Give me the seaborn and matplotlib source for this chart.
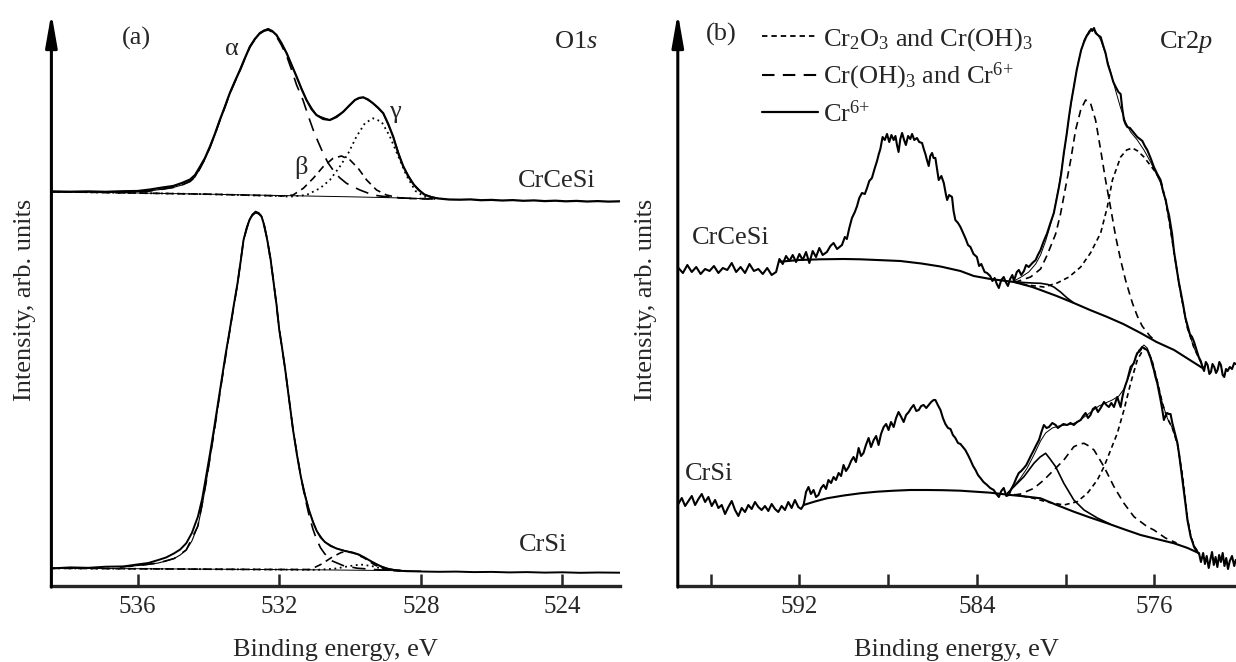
import matplotlib
matplotlib.use("Agg")
import matplotlib.pyplot as plt
import seaborn as sns
from matplotlib.lines import Line2D

# ---------------- data: (binding energy eV, intensity arb. units) ----------------
# Panel (a) O1s, CrCeSi
o1s_crcesi_data = [(538.4, 394.5), (537.9, 394.3), (537.4, 394.6), (536.9, 394.2), (536.4, 394.8), (536.0, 395.0),
    (535.65, 396.5), (535.3, 398.5), (535.0, 400), (534.75, 403), (534.52, 406.5), (534.38, 411), (534.24, 419.3),
    (534.1, 428), (533.96, 439.3), (533.82, 452), (533.68, 466), (533.54, 479), (533.4, 492.7), (533.25, 505),
    (533.11, 516), (532.97, 528), (532.83, 539.3), (532.69, 547), (532.55, 552.7), (532.43, 555.5), (532.31, 556.7),
    (532.2, 555), (532.08, 551), (531.94, 543), (531.79, 532.7), (531.65, 521), (531.51, 509.3), (531.37, 497),
    (531.23, 486), (531.09, 477), (530.95, 471), (530.76, 467), (530.57, 466), (530.38, 469), (530.19, 474.3),
    (530.02, 480.5), (529.86, 486), (529.75, 488), (529.63, 488.7), (529.49, 486.5), (529.35, 482.7), (529.2, 478),
    (529.06, 472.7), (528.92, 462), (528.78, 449.3), (528.64, 433), (528.5, 420), (528.36, 410), (528.2, 401.5),
    (528.06, 396), (527.9, 391.5), (527.7, 388.7), (527.5, 387.5), (527.2, 386.5), (526.9, 386.3), (526.6, 386.6),
    (526.3, 385.8), (526.0, 386.1), (525.7, 385.5), (525.4, 385.9), (525.1, 385.2), (524.8, 385.6), (524.5, 384.9),
    (524.2, 385.3), (523.9, 384.7), (523.6, 385.1), (523.3, 384.5), (523.0, 384.9), (522.7, 384.4), (522.37, 384.7)]
o1s_crcesi_fit = [(536.5, 394.0), (536.0, 394.3), (535.65, 395.2), (535.3, 396.8), (535.0, 398.5), (534.75, 401),
    (534.52, 404.5), (534.38, 409), (534.24, 417.5), (534.1, 427), (533.96, 438.5), (533.82, 451.5), (533.68, 465.5),
    (533.4, 492.5), (533.11, 516), (532.83, 539.5), (532.55, 553.5), (532.31, 557.5), (532.08, 551.5), (531.79, 532.7),
    (531.51, 509.3), (531.23, 486), (530.95, 471), (530.57, 466), (530.19, 474.3), (529.86, 486), (529.63, 488.7),
    (529.35, 482.7), (529.06, 472.7), (528.78, 449.3), (528.5, 420), (528.2, 401.5), (527.9, 391.5), (527.5, 387.5)]
o1s_crcesi_bg = [(538.4, 394.3), (536.5, 393.3), (534.0, 391.8), (532.0, 390.5), (530.0, 389.2), (528.5, 388.0), (527.6, 387.0)]
o1s_crcesi_alpha = [(538.4, 394.3), (536.5, 393.5), (536.0, 393.8), (535.65, 395), (535.3, 396.8), (535.0, 398.5),
    (534.75, 401), (534.52, 404.5), (534.38, 409), (534.24, 417.5), (534.1, 427), (533.96, 438.5), (533.82, 451.5),
    (533.68, 465.5), (533.54, 478.5), (533.4, 492.3), (533.25, 504.5), (533.11, 515.5), (532.97, 527.5), (532.83, 539),
    (532.69, 546.5), (532.55, 552.3), (532.43, 555), (532.31, 556), (532.2, 554), (532.08, 549.5), (531.94, 541),
    (531.79, 530), (531.65, 516), (531.51, 501), (531.33, 486), (531.18, 470), (531.04, 456), (530.9, 444),
    (530.76, 432.7), (530.62, 423), (530.48, 416), (530.3, 408.5), (530.1, 402.7), (529.9, 399), (529.72, 396),
    (529.5, 393), (529.35, 391), (529.15, 390), (528.97, 389.3), (528.7, 388.3), (528.4, 387.8), (527.6, 387.0)]
o1s_crcesi_beta = [(538.4, 394.3), (534.0, 391.8), (531.9, 390), (531.61, 391), (531.32, 397.7), (531.04, 407.7),
    (530.76, 419.3), (530.48, 427.7), (530.24, 430), (530.0, 426), (529.77, 417.7), (529.53, 406), (529.25, 396),
    (528.97, 391), (528.64, 388.3), (528.3, 387.5), (527.6, 387.0)]
o1s_crcesi_gamma = [(538.4, 394.3), (534.0, 391.8), (532.0, 390), (531.7, 389.3), (531.23, 391), (530.85, 397.7),
    (530.57, 406), (530.29, 419.3), (530.05, 432.7), (529.82, 449.3), (529.58, 462.7), (529.35, 467.7), (529.11, 464.3),
    (528.88, 450), (528.64, 430), (528.4, 410), (528.15, 395), (527.9, 389.5), (527.6, 387.0)]

# Panel (a) O1s, CrSi
o1s_crsi_data = [(538.4, 17.7), (537.9, 18.6), (537.4, 18.2), (536.9, 19.3), (536.4, 19.6), (535.98, 21.7), (535.7, 23),
    (535.42, 26), (535.2, 28.5), (534.97, 32.7), (534.8, 36.5), (534.63, 42.7), (534.47, 53), (534.3, 69.3), (534.18, 87),
    (534.07, 109.3), (533.96, 132), (533.85, 156), (533.74, 181), (533.63, 206), (533.52, 231), (533.4, 256),
    (533.29, 280), (533.18, 302.7), (533.09, 325), (533.01, 346), (532.92, 358), (532.84, 366), (532.76, 371),
    (532.67, 373.3), (532.58, 372.5), (532.5, 369.3), (532.42, 360), (532.34, 346), (532.25, 328), (532.17, 306),
    (532.08, 282), (532.0, 256), (531.92, 238), (531.83, 216), (531.72, 186), (531.61, 156), (531.5, 131),
    (531.39, 109.3), (531.27, 90), (531.16, 76), (531.05, 64), (530.94, 55), (530.83, 48.5), (530.71, 44),
    (530.55, 40), (530.38, 37.5), (530.15, 35), (529.93, 33.5), (529.75, 31.5), (529.59, 28.5), (529.42, 25),
    (529.26, 22), (529.1, 19), (528.92, 17.2), (528.7, 15.5), (528.4, 14.8), (528.0, 14.5), (527.5, 14.2), (527.0, 14.4),
    (526.5, 13.9), (526.0, 14.1), (525.5, 13.6), (525.0, 13.9), (524.5, 13.4), (524.0, 13.7), (523.5, 13.2),
    (523.0, 13.5), (522.37, 13.3)]
o1s_crsi_fit = [(536.5, 19.0), (535.98, 20.5), (535.7, 21.5), (535.42, 23), (535.2, 25), (534.97, 27.5), (534.8, 31),
    (534.63, 36), (534.47, 45), (534.3, 60), (534.18, 80), (534.07, 103), (533.96, 127), (533.85, 152), (533.74, 178),
    (533.63, 204), (533.52, 230), (533.4, 255), (533.29, 279), (533.18, 302), (533.09, 325), (533.01, 346),
    (532.92, 359), (532.84, 367), (532.76, 372), (532.67, 374.5), (532.58, 373.5), (532.5, 370), (532.42, 361),
    (532.34, 347), (532.25, 329), (532.17, 307), (532.08, 283), (532.0, 257), (531.83, 216), (531.61, 156),
    (531.39, 109.3), (531.16, 76), (530.94, 55), (530.71, 44), (530.38, 37.5), (529.93, 33.5), (529.59, 28.5),
    (529.26, 22), (528.92, 17.2), (528.4, 15.0)]
o1s_crsi_bg = [(538.4, 17.7), (536.0, 17.3), (533.0, 16.6), (531.0, 16.2), (529.0, 15.5), (528.0, 15.0)]
o1s_crsi_alpha = [(536.5, 19.0), (535.98, 20.5), (535.42, 23), (534.97, 27.5), (534.63, 36), (534.3, 60), (534.07, 103),
    (533.85, 152), (533.63, 204), (533.4, 255), (533.18, 302), (533.01, 346), (532.84, 367), (532.67, 374.5),
    (532.5, 370), (532.34, 347), (532.17, 307), (532.0, 257), (531.83, 216), (531.61, 156), (531.39, 109),
    (531.27, 88), (531.16, 71), (531.05, 57), (530.94, 46), (530.83, 38), (530.71, 32), (530.5, 25), (530.2, 20.5),
    (529.8, 17.8), (529.2, 16.2), (528.6, 15.3)]
o1s_crsi_beta = [(538.4, 17.7), (533.0, 16.6), (531.12, 16.5), (530.8, 22), (530.5, 29), (530.25, 33.5), (530.1, 34.3),
    (529.9, 33), (529.6, 28), (529.3, 21), (529.0, 16.5), (528.5, 15.0)]
o1s_crsi_gamma = [(538.4, 17.7), (533.0, 16.6), (530.9, 16.2), (530.4, 17.5), (530.0, 20), (529.7, 21.5), (529.4, 20),
    (529.1, 17.5), (528.8, 15.5), (528.3, 15.0)]

# Panel (b) Cr2p, CrCeSi
cr2p_crcesi_data = [(597.45, 318), (597.25, 313), (597.05, 321), (596.85, 314), (596.65, 319), (596.45, 312),
    (596.25, 317), (596.05, 315), (595.85, 320), (595.65, 313), (595.45, 318), (595.25, 316), (595.05, 323),
    (594.85, 314), (594.65, 319), (594.45, 313), (594.25, 322), (594.05, 315), (593.85, 317), (593.65, 312),
    (593.45, 318), (593.25, 311), (593.05, 314), (592.9, 327), (592.75, 322), (592.6, 330), (592.45, 325),
    (592.3, 331), (592.15, 324), (592.0, 332), (591.85, 326), (591.7, 334), (591.55, 323), (591.4, 335),
    (591.25, 329), (591.1, 338), (590.95, 331), (590.76, 334), (590.6, 340), (590.46, 343), (590.3, 337),
    (590.08, 341), (589.95, 349), (589.86, 347), (589.75, 358), (589.63, 368), (589.5, 374), (589.4, 380),
    (589.3, 388), (589.18, 393), (589.05, 392), (588.95, 398), (588.85, 405), (588.73, 408), (588.6, 418),
    (588.5, 425), (588.42, 432), (588.35, 437), (588.25, 449), (588.15, 446), (588.05, 452), (587.95, 444),
    (587.85, 451), (587.75, 446), (587.67, 450), (587.6, 441), (587.53, 434), (587.45, 447), (587.37, 453),
    (587.28, 446), (587.2, 441), (587.1, 450), (587.0, 447), (586.92, 452), (586.82, 446), (586.7, 448),
    (586.6, 444), (586.47, 443), (586.38, 436), (586.32, 432), (586.25, 426), (586.17, 420), (586.1, 430),
    (586.02, 433), (585.95, 428), (585.87, 428), (585.8, 418), (585.72, 406), (585.6, 410), (585.49, 403),
    (585.4, 392), (585.34, 386), (585.25, 391), (585.12, 389), (585.05, 375), (584.97, 366), (584.85, 363),
    (584.74, 359), (584.6, 352), (584.5, 347), (584.4, 341), (584.29, 339), (584.15, 332), (584.0, 329),
    (583.9, 320), (583.8, 322), (583.65, 314), (583.54, 313), (583.4, 310), (583.3, 305), (583.2, 308),
    (583.1, 302), (583.01, 298), (582.9, 306), (582.79, 309), (582.7, 304), (582.6, 300), (582.5, 307),
    (582.4, 311), (582.33, 305), (582.2, 314), (582.11, 316), (582.0, 311), (581.88, 315), (581.78, 321),
    (581.66, 319), (581.5, 323), (581.35, 326), (581.25, 331), (581.13, 336), (581.0, 344), (580.83, 353),
    (580.7, 362), (580.53, 373), (580.4, 388), (580.3, 399), (580.2, 412), (580.08, 433), (579.95, 452),
    (579.85, 469), (579.75, 484), (579.63, 499), (579.5, 516), (579.4, 526), (579.3, 536), (579.17, 544),
    (579.05, 550), (578.95, 553), (578.85, 557), (578.8, 555), (578.72, 558), (578.65, 553), (578.55, 551),
    (578.42, 549), (578.3, 540), (578.2, 533), (578.1, 522), (577.97, 513), (577.85, 504), (577.74, 499),
    (577.62, 494), (577.52, 492), (577.45, 478), (577.37, 466), (577.3, 462), (577.22, 459), (577.1, 458),
    (576.99, 455), (576.88, 452), (576.77, 449), (576.65, 447), (576.54, 445), (576.43, 440), (576.32, 436),
    (576.17, 428), (576.02, 419), (575.87, 412), (575.72, 406), (575.6, 394), (575.49, 386), (575.4, 376),
    (575.34, 371), (575.2, 352), (575.11, 334), (575.0, 318), (574.9, 304), (574.81, 294), (574.7, 281),
    (574.6, 268), (574.51, 261), (574.4, 252), (574.3, 249), (574.21, 244), (574.1, 236), (574.0, 229),
    (573.91, 225), (573.83, 219), (573.76, 215), (573.68, 224), (573.6, 221), (573.52, 212), (573.45, 214),
    (573.38, 222), (573.3, 219), (573.22, 213), (573.15, 216), (573.07, 224), (573.0, 221), (572.92, 211),
    (572.85, 209), (572.77, 217), (572.7, 215), (572.6, 219), (572.5, 217), (572.4, 223), (572.33, 222)]
cr2p_crcesi_fit = [(582.33, 305), (582.0, 309), (581.66, 314), (581.35, 322), (581.13, 331), (580.9, 345),
    (580.7, 360), (580.53, 374), (580.3, 400), (580.08, 432), (579.85, 468), (579.63, 500), (579.4, 527),
    (579.17, 546), (578.95, 555), (578.8, 557), (578.65, 555), (578.42, 546), (578.2, 532), (577.97, 514),
    (577.74, 495), (577.52, 478), (577.3, 464), (577.07, 454), (576.77, 446), (576.47, 436), (576.17, 424),
    (575.87, 410), (575.72, 403), (575.49, 385), (575.3, 360), (575.11, 333), (574.81, 292), (574.51, 258),
    (574.21, 238), (573.91, 224), (573.76, 217)]
cr2p_crcesi_bg = [(592.87, 324.3), (592.0, 326), (591.06, 326.7), (590.0, 327), (589.26, 326.7), (588.5, 326),
    (587.45, 325), (586.5, 322.5), (585.64, 319.5), (584.74, 315), (584.14, 310), (583.39, 307), (582.33, 304),
    (581.5, 299), (581.13, 296), (580.4, 290), (579.63, 283), (578.9, 276), (578.12, 269), (577.4, 262),
    (576.62, 253), (575.9, 244), (575.11, 236), (574.4, 226), (573.76, 217)]
cr2p_crcesi_comp1 = [(582.33, 304), (581.73, 301), (580.98, 299), (580.38, 303), (579.85, 309), (579.32, 319),
    (578.88, 333), (578.42, 353), (578.12, 379), (577.89, 406), (577.52, 429), (577.25, 436), (576.99, 438),
    (576.75, 435), (576.47, 429), (576.02, 416), (575.72, 406), (575.49, 386), (575.3, 360), (575.11, 333),
    (574.81, 292), (574.51, 258), (574.21, 238), (573.91, 224), (573.76, 217)]
cr2p_crcesi_comp2 = [(582.33, 304), (582.18, 304.5), (581.58, 309), (581.13, 317), (580.83, 331), (580.45, 352),
    (580.23, 372), (580.0, 399), (579.77, 426), (579.55, 456), (579.32, 476), (579.1, 486), (578.88, 483),
    (578.65, 466), (578.42, 436), (578.2, 406), (577.97, 378), (577.74, 349), (577.52, 326), (577.3, 306),
    (577.14, 294), (576.99, 283), (576.77, 270), (576.55, 260), (576.2, 250), (575.9, 244)]
cr2p_crcesi_comp3 = [(582.33, 304.5), (581.9, 303.5), (581.5, 303), (581.13, 302.7), (580.8, 301.5), (580.53, 299),
    (580.23, 294), (579.93, 288), (579.63, 283)]

# Panel (b) Cr2p, CrSi
cr2p_crsi_data = [(597.46, 82), (597.3, 88), (597.15, 80), (597.0, 85), (596.85, 90), (596.7, 81), (596.55, 87),
    (596.4, 92), (596.25, 84), (596.1, 89), (595.95, 80), (595.8, 86), (595.65, 78), (595.5, 81), (595.35, 72),
    (595.2, 79), (595.05, 85), (594.9, 76), (594.75, 70), (594.6, 78), (594.45, 74), (594.3, 81), (594.15, 77),
    (594.0, 84), (593.85, 79), (593.7, 76), (593.55, 80), (593.4, 75), (593.25, 82), (593.1, 77), (592.95, 74),
    (592.8, 80), (592.65, 76), (592.5, 84), (592.35, 78), (592.2, 86), (592.05, 79), (591.92, 77), (591.81, 81),
    (591.7, 94), (591.59, 99), (591.48, 92), (591.36, 96), (591.25, 89), (591.14, 91), (591.02, 98), (590.91, 101),
    (590.8, 97), (590.69, 106), (590.57, 103), (590.46, 109), (590.35, 106), (590.23, 113), (590.12, 110),
    (590.01, 121), (589.9, 115), (589.78, 119), (589.67, 125), (589.56, 129), (589.45, 124), (589.33, 138),
    (589.22, 130), (589.11, 133), (589.0, 141), (588.88, 148), (588.77, 139), (588.65, 146), (588.54, 150),
    (588.43, 141), (588.32, 152), (588.2, 159), (588.09, 162), (587.98, 156), (587.87, 164), (587.75, 159),
    (587.64, 168), (587.53, 174), (587.41, 169), (587.3, 164), (587.19, 171), (587.07, 174), (586.96, 178),
    (586.85, 181), (586.73, 175), (586.62, 176), (586.51, 180), (586.4, 181), (586.28, 178), (586.17, 181),
    (586.06, 184), (585.95, 186), (585.87, 186), (585.76, 181), (585.64, 176), (585.53, 168), (585.42, 162),
    (585.3, 158), (585.19, 157), (585.08, 151), (584.97, 148), (584.85, 143), (584.74, 142), (584.63, 139),
    (584.52, 136), (584.4, 131), (584.29, 126), (584.17, 120), (584.06, 116), (583.95, 111), (583.84, 108),
    (583.7, 104), (583.54, 101), (583.4, 98), (583.24, 96), (583.12, 92), (583.01, 89), (582.9, 95), (582.79, 98),
    (582.67, 90), (582.56, 91), (582.45, 97), (582.33, 102), (582.22, 108), (582.11, 113), (582.0, 115),
    (581.88, 118), (581.77, 121), (581.66, 126), (581.55, 131), (581.43, 136), (581.32, 141), (581.2, 146),
    (581.09, 154), (580.98, 161), (580.86, 158), (580.75, 159), (580.6, 163), (580.45, 161), (580.35, 158),
    (580.23, 160), (580.1, 162), (579.93, 161), (579.78, 163), (579.63, 161), (579.48, 164), (579.32, 166),
    (579.21, 170), (579.1, 173), (578.99, 168), (578.88, 171), (578.77, 177), (578.65, 179), (578.54, 174),
    (578.42, 178), (578.27, 184), (578.16, 181), (578.05, 179), (577.94, 183), (577.82, 179), (577.72, 186),
    (577.67, 189), (577.6, 184), (577.52, 179), (577.45, 188), (577.37, 196), (577.3, 201), (577.22, 206),
    (577.14, 213), (577.07, 219), (576.99, 221), (576.92, 223), (576.84, 229), (576.77, 233), (576.7, 234),
    (576.62, 236), (576.55, 239), (576.47, 238), (576.4, 237), (576.32, 236), (576.24, 232), (576.17, 228),
    (576.1, 222), (576.02, 216), (575.95, 209), (575.87, 203), (575.8, 195), (575.72, 186), (575.64, 176),
    (575.57, 166), (575.5, 170), (575.42, 173), (575.35, 172), (575.27, 172), (575.19, 163), (575.11, 156),
    (575.04, 150), (574.96, 143), (574.88, 131), (574.81, 119), (574.73, 106), (574.66, 93), (574.58, 79),
    (574.51, 66), (574.43, 57), (574.36, 49), (574.28, 44), (574.21, 39), (574.1, 35), (573.98, 32), (573.9, 24),
    (573.8, 33), (573.72, 22), (573.64, 30), (573.55, 18), (573.47, 27), (573.4, 34), (573.32, 21), (573.24, 29),
    (573.16, 19), (573.08, 31), (573.0, 24), (572.92, 33), (572.84, 20), (572.76, 28), (572.68, 17), (572.6, 25),
    (572.5, 30), (572.4, 20), (572.33, 26)]
cr2p_crsi_fit = [(582.63, 92), (582.33, 100), (582.03, 108), (581.73, 118), (581.43, 131), (581.13, 145),
    (580.9, 153), (580.6, 158), (580.3, 160), (580.0, 161), (579.7, 162), (579.4, 165), (579.1, 170), (578.8, 175),
    (578.5, 180), (578.2, 183), (577.9, 186), (577.6, 190), (577.37, 197), (577.14, 210), (576.92, 224),
    (576.7, 236), (576.47, 241), (576.32, 238), (576.1, 225), (575.87, 205), (575.64, 183), (575.42, 168),
    (575.19, 158), (574.96, 142), (574.73, 110), (574.51, 68), (574.36, 50), (574.21, 40), (573.98, 32)]
cr2p_crsi_bg = [(591.81, 81), (591.3, 84.5), (590.76, 87.7), (590.0, 90.5), (589.26, 92.7), (588.5, 94.3),
    (587.75, 95.3), (587.0, 96), (586.25, 96), (585.5, 95.8), (584.74, 95.3), (584.0, 94.2), (583.39, 93.3),
    (582.48, 91), (581.8, 89.5), (581.13, 87.7), (580.4, 81), (579.63, 74.3), (578.9, 68.5), (578.12, 62.7),
    (577.4, 57), (576.62, 51), (575.9, 47), (575.11, 42.7), (574.5, 38), (573.98, 32.7)]
cr2p_crsi_comp1 = [(582.33, 91.5), (581.5, 88), (580.83, 84), (580.08, 81), (579.48, 84.3), (579.02, 92.7),
    (578.57, 106), (578.27, 119.3), (577.97, 136), (577.67, 152.7), (577.37, 176), (577.07, 202.7), (576.77, 226),
    (576.47, 237.7), (576.32, 236), (576.1, 225), (575.87, 205), (575.64, 183), (575.42, 168), (575.19, 158),
    (574.96, 142), (574.73, 110), (574.51, 68), (574.36, 50), (574.21, 40), (573.98, 32.7)]
cr2p_crsi_comp2 = [(582.33, 91), (582.03, 92), (581.43, 97.7), (580.98, 106), (580.53, 116), (580.08, 126),
    (579.63, 139.3), (579.35, 142), (579.17, 142.7), (578.95, 140), (578.72, 136), (578.27, 119.3), (577.82, 99.3),
    (577.37, 82.7), (576.92, 69.3), (576.32, 59.3), (576.02, 56), (575.5, 48), (575.0, 43)]
cr2p_crsi_comp3 = [(582.63, 92.7), (582.33, 99.3), (581.88, 109.3), (581.43, 122.7), (581.15, 129), (580.9, 132.7),
    (580.7, 127), (580.45, 119.3), (580.08, 102.7), (579.63, 86), (579.17, 76), (578.57, 68), (578.0, 62)]

tick_a = [536, 532, 528, 524]
tick_b = [596, 592, 588, 584, 580, 576]
tick_b_labels = ["", "592", "", "584", "", "576"]
legend_labels = [r"Cr$_2$O$_3$ and Cr(OH)$_3$", r"Cr(OH)$_3$ and Cr$^{6{+}}$", r"Cr$^{6{+}}$"]

# ---------------- style ----------------
sns.set_style("ticks")
plt.rcParams['font.family'] = ['Liberation Serif', 'DejaVu Serif']
plt.rcParams['mathtext.fontset'] = 'custom'
plt.rcParams['mathtext.rm'] = 'Liberation Serif'
plt.rcParams['mathtext.it'] = 'Liberation Serif:italic'
plt.rcParams['mathtext.bf'] = 'Liberation Serif:bold'

W, H = 1236, 662
fig = plt.figure(figsize=(W / 100, H / 100), dpi=100)
ax_a = fig.add_axes([51.4 / W, 76 / H, 568.6 / W, 573 / H])
ax_b = fig.add_axes([677.8 / W, 76 / H, 558.2 / W, 573 / H])


def draw(ax, pts, lw, ls="-", z=2):
    E = [p[0] for p in pts]
    I = [p[1] for p in pts]
    sns.lineplot(x=E, y=I, ax=ax, sort=False, estimator=None, color="black",
                 linewidth=lw, linestyle=ls, legend=False, zorder=z)


DOT = (0, (1, 2))
SHORT = (0, (3, 2.2))
MED = (0, (4.5, 3))
LONG = (0, (8, 5))

# panel a
draw(ax_a, o1s_crcesi_bg, 0.7)
draw(ax_a, o1s_crcesi_alpha, 1.2, LONG)
draw(ax_a, o1s_crcesi_beta, 1.2, MED)
draw(ax_a, o1s_crcesi_gamma, 1.3, DOT)
draw(ax_a, o1s_crcesi_fit, 0.8)
draw(ax_a, o1s_crcesi_data, 1.6, z=3)
draw(ax_a, o1s_crsi_bg, 0.7)
draw(ax_a, o1s_crsi_alpha, 1.2, LONG)
draw(ax_a, o1s_crsi_beta, 1.2, MED)
draw(ax_a, o1s_crsi_gamma, 1.3, DOT)
draw(ax_a, o1s_crsi_fit, 0.8)
draw(ax_a, o1s_crsi_data, 1.4, z=3)

# panel b
for bg, c1, c2, c3, fit, dat in [
        (cr2p_crcesi_bg, cr2p_crcesi_comp1, cr2p_crcesi_comp2, cr2p_crcesi_comp3, cr2p_crcesi_fit, cr2p_crcesi_data),
        (cr2p_crsi_bg, cr2p_crsi_comp1, cr2p_crsi_comp2, cr2p_crsi_comp3, cr2p_crsi_fit, cr2p_crsi_data)]:
    draw(ax_b, bg, 1.5)
    draw(ax_b, c1, 1.2, SHORT)
    draw(ax_b, c2, 1.2, MED)
    draw(ax_b, c3, 1.2)
    draw(ax_b, fit, 0.7)
    draw(ax_b, dat, 1.5, z=3)

FS = 19
for ax, xl, ticks, labels, ypad in [(ax_a, (538.44, 522.37), tick_a, [str(t) for t in tick_a], 11),
                                    (ax_b, (597.48, 572.32), tick_b, tick_b_labels, 15)]:
    ax.set_xlim(*xl)
    ax.set_ylim(0, 573)
    ax.set_xticks(ticks)
    ax.set_xticklabels(labels)
    ax.set_yticks([])
    ax.tick_params(axis="x", direction="in", length=9, width=1.8, labelsize=18, pad=7)
    for s in ["top", "right", "left"]:
        ax.spines[s].set_visible(False)
    ax.spines["bottom"].set_linewidth(2.4)
    ax.set_xlabel("Binding energy, eV", fontsize=FS, labelpad=15)
    ax.set_ylabel("Intensity, arb. units", fontsize=FS, labelpad=ypad)
    ax.annotate("", xy=(0, 1.0), xytext=(0, -0.002), xycoords="axes fraction",
                arrowprops=dict(arrowstyle="-|>,head_length=0.8,head_width=0.14", lw=2.2,
                                color="black", mutation_scale=25, shrinkA=0, shrinkB=0),
                annotation_clip=False)
    ax.patch.set_alpha(0)

# panel text
ax_a.text(0.149, 0.956, "(a)", transform=ax_a.transAxes, fontsize=FS, ha="center", va="center")
ax_a.text(0.318, 0.937, "α", transform=ax_a.transAxes, fontsize=FS, ha="center", va="center")
ax_a.text(0.439, 0.731, "β", transform=ax_a.transAxes, fontsize=FS, ha="center", va="center")
ax_a.text(0.604, 0.827, "γ", transform=ax_a.transAxes, fontsize=FS, ha="center", va="center")
ax_a.text(0.922, 0.949, r"O1$s$", transform=ax_a.transAxes, fontsize=FS, ha="center", va="center")
ax_a.text(0.888, 0.707, "CrCeSi", transform=ax_a.transAxes, fontsize=FS, ha="center", va="center")
ax_a.text(0.864, 0.0716, "CrSi", transform=ax_a.transAxes, fontsize=FS, ha="center", va="center")

ax_b.text(0.0774, 0.962, "(b)", transform=ax_b.transAxes, fontsize=FS, ha="center", va="center")
ax_b.text(0.911, 0.949, r"Cr2$p$", transform=ax_b.transAxes, fontsize=FS, ha="center", va="center")
ax_b.text(0.095, 0.6065, "CrCeSi", transform=ax_b.transAxes, fontsize=FS, ha="center", va="center")
ax_b.text(0.056, 0.196, "CrSi", transform=ax_b.transAxes, fontsize=FS, ha="center", va="center")

handles = [Line2D([], [], color="black", lw=1.3, ls=SHORT),
           Line2D([], [], color="black", lw=1.5, ls=(0, (6, 4))),
           Line2D([], [], color="black", lw=1.6)]
ax_b.legend(handles, legend_labels, loc="upper left", bbox_to_anchor=(0.151, 0.977), frameon=False,
            fontsize=FS, handlelength=2.1, handletextpad=0.2, labelspacing=0.3, borderpad=0,
            borderaxespad=0)

fig.savefig("out.png", dpi=100)
